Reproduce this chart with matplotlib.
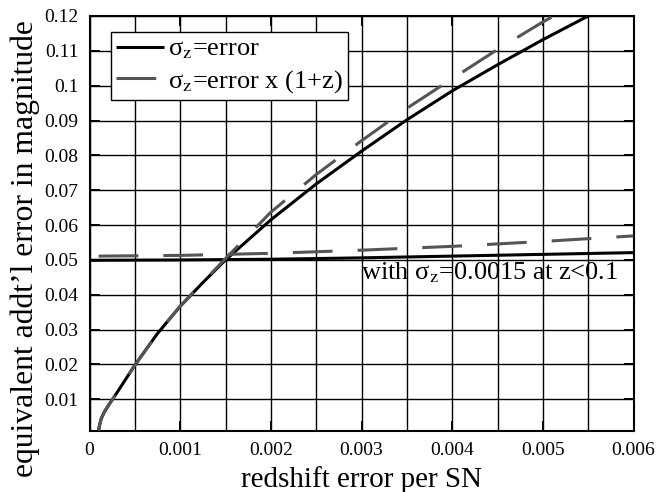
import matplotlib
matplotlib.use("Agg")
import matplotlib.pyplot as plt
from matplotlib.ticker import MultipleLocator, FixedLocator, FixedFormatter

plt.rcParams['font.family'] = ['Liberation Serif', 'DejaVu Serif']
plt.rcParams['mathtext.fontset'] = 'stix'

# ---- data ----
# steep curves (sigma_z = error, and sigma_z = error x (1+z))
x_solid = [0.0001, 0.00011, 0.00013, 0.00016, 0.0002, 0.0003, 0.0004, 0.0005, 0.00075, 0.001,
           0.00125, 0.0015, 0.002, 0.0025, 0.003, 0.0035, 0.004, 0.0045, 0.005, 0.0055]
y_solid = [0.0010, 0.0025, 0.0045, 0.0062, 0.0079, 0.0118, 0.0158, 0.0198, 0.0289, 0.0367,
           0.0435, 0.0500, 0.0615, 0.0718, 0.0812, 0.0902, 0.0985, 0.1060, 0.1132, 0.1200]

x_dash = [0.0001, 0.00011, 0.00013, 0.00016, 0.0002, 0.0003, 0.0004, 0.0005, 0.00075, 0.001,
          0.00125, 0.0015, 0.002, 0.0025, 0.003, 0.0035, 0.004, 0.0045, 0.005, 0.00512]
y_dash = [0.0010, 0.0025, 0.0045, 0.0062, 0.0079, 0.0118, 0.0158, 0.0198, 0.0289, 0.0367,
          0.0436, 0.0504, 0.0637, 0.0745, 0.0842, 0.0935, 0.1020, 0.1104, 0.1183, 0.1200]

# flat curves (with sigma_z = 0.0015 at z<0.1)
x_flat_solid = [0.0, 0.001, 0.002, 0.003, 0.004, 0.005, 0.006]
y_flat_solid = [0.0499, 0.0500, 0.0502, 0.0506, 0.0511, 0.0516, 0.0521]
x_flat_dash = [0.0001, 0.001, 0.002, 0.003, 0.004, 0.005, 0.006]
y_flat_dash = [0.0511, 0.0513, 0.0519, 0.0528, 0.0539, 0.0553, 0.0569]

x_ticks = [0, 0.001, 0.002, 0.003, 0.004, 0.005, 0.006]
x_ticklabels = ['0', '0.001', '0.002', '0.003', '0.004', '0.005', '0.006']
y_ticks = [0.01, 0.02, 0.03, 0.04, 0.05, 0.06, 0.07, 0.08, 0.09, 0.1, 0.11, 0.12]
y_ticklabels = ['0.01', '0.02', '0.03', '0.04', '0.05', '0.06', '0.07', '0.08', '0.09', '0.1', '0.11', '0.12']

legend_labels = ['σ$_\\mathrm{z}$=error', 'σ$_\\mathrm{z}$=error x (1+z)']
annotation = 'with σ$_\\mathrm{z}$=0.0015 at z<0.1'
xlabel = 'redshift error per SN'
ylabel = 'equivalent addt’l error in magnitude'

W, H = 657, 492
fig = plt.figure(figsize=(W / 100, H / 100), dpi=100)
ax = fig.add_axes([89.5 / W, 1 - 430.7 / H, (633.5 - 89.5) / W, (430.7 - 16) / H])

GRAY = '#555555'
dash = (0, (13, 8.2))
l1, = ax.plot(x_solid, y_solid, color='black', lw=2.2, solid_capstyle='butt', zorder=3)
l2, = ax.plot(x_dash, y_dash, color=GRAY, lw=2.2, linestyle=dash, dash_capstyle='butt', zorder=4)
ax.plot(x_flat_solid, y_flat_solid, color='black', lw=2.2, zorder=3)
ax.plot(x_flat_dash, y_flat_dash, color=GRAY, lw=2.2, linestyle=dash, dash_capstyle='butt', zorder=4)

ax.set_xlim(0, 0.006)
ax.set_ylim(0.001, 0.12)
ax.xaxis.set_major_locator(FixedLocator(x_ticks))
ax.xaxis.set_major_formatter(FixedFormatter(x_ticklabels))
ax.xaxis.set_minor_locator(MultipleLocator(0.0005))
ax.yaxis.set_major_locator(FixedLocator(y_ticks))
ax.yaxis.set_major_formatter(FixedFormatter(y_ticklabels))

ax.grid(True, which='both', color='black', lw=1.0, zorder=1)
ax.set_axisbelow(True)
ax.tick_params(which='major', direction='in', length=7, width=1.4, labelsize=14,
               top=True, right=True, pad=8)
ax.tick_params(which='minor', direction='in', length=0, top=True, right=True)
for s in ax.spines.values():
    s.set_linewidth(1.5)

ax.text(0.00583, 0.0443, annotation, fontsize=19, ha='right', va='baseline', zorder=5)

fig.text(361.5 / W, 1 - 487 / H, xlabel, fontsize=21, ha='center', va='baseline')
fig.text(25 / W, 1 - 249 / H, ylabel, fontsize=22.8, ha='center', va='center', rotation=90)

leg = fig.legend([l1, l2], legend_labels, loc='upper left',
                 bbox_to_anchor=(111 / W, 1 - 32 / H), bbox_transform=fig.transFigure,
                 fontsize=19, frameon=True, fancybox=False, shadow=False,
                 handlelength=1.8, handletextpad=0.15, borderpad=0.2, labelspacing=0.25,
                 borderaxespad=0)
leg.get_frame().set_edgecolor('black')
leg.get_frame().set_linewidth(1.0)
leg.get_frame().set_alpha(1)

fig.savefig('out.png', dpi=100)
